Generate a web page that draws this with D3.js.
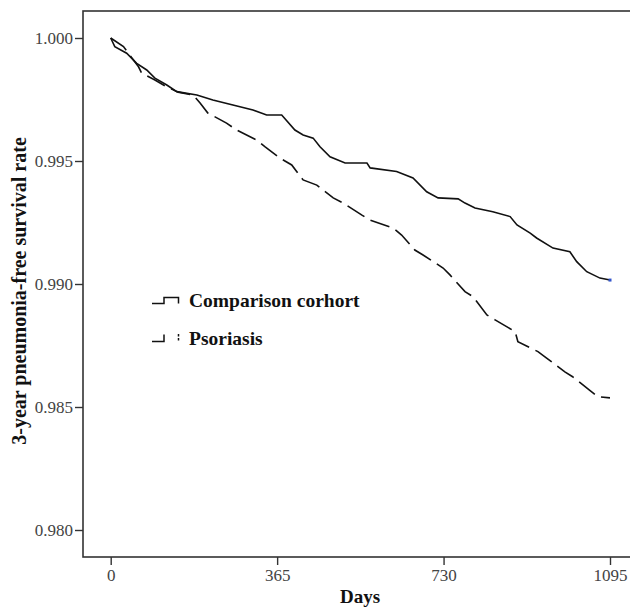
<!DOCTYPE html>
<html>
<head>
<meta charset="utf-8">
<script src="https://cdn.jsdelivr.net/npm/d3@7"></script>
<style>
  html, body { margin: 0; padding: 0; background: #fff; }
  svg { display: block; }
</style>
</head>
<body>
<svg id="chart" width="630" height="608"></svg>
<script>
// ---- data ----
const seriesNames = ["Comparison corhort", "Psoriasis"];
const comparisonDays = [0, 9, 35, 57, 79, 97, 123, 145, 189, 224, 268, 312, 342, 375, 404, 422, 444, 459, 481, 514, 562, 569, 627, 663, 693, 718, 762, 777, 799, 838, 876, 891, 920, 934, 970, 1007, 1022, 1044, 1073, 1095];
const comparisonValues = [1.0000, 0.99965, 0.99938, 0.99897, 0.99870, 0.99837, 0.99809, 0.99782, 0.99768, 0.99748, 0.99728, 0.99707, 0.99687, 0.99687, 0.99626, 0.99606, 0.99593, 0.99558, 0.99517, 0.99492, 0.99492, 0.99472, 0.99457, 0.99431, 0.99375, 0.99350, 0.99346, 0.99329, 0.99309, 0.99294, 0.99274, 0.99240, 0.99207, 0.99187, 0.99146, 0.99131, 0.99091, 0.99050, 0.99024, 0.99016];
const psoriasisDays = [0, 28, 61, 68, 97, 123, 148, 181, 196, 213, 254, 276, 320, 338, 371, 397, 422, 452, 488, 510, 551, 569, 619, 638, 667, 685, 729, 744, 777, 795, 825, 843, 887, 893, 937, 956, 996, 1013, 1050, 1068, 1095];
const psoriasisValues = [1.0000, 0.99965, 0.99883, 0.99857, 0.99829, 0.99801, 0.99780, 0.99768, 0.99736, 0.99695, 0.99654, 0.99626, 0.99585, 0.99558, 0.99512, 0.99484, 0.99423, 0.99402, 0.99350, 0.99329, 0.99280, 0.99260, 0.99228, 0.99199, 0.99138, 0.99118, 0.99065, 0.99037, 0.98969, 0.98948, 0.98874, 0.98854, 0.98806, 0.98765, 0.98725, 0.98699, 0.98643, 0.98623, 0.98569, 0.98542, 0.98537];
const xTicks = [0, 365, 730, 1095];
const yTicks = [1.000, 0.995, 0.990, 0.985, 0.980];
const xTitle = "Days";
const yTitle = "3-year pneumonia-free survival rate";

// ---- layout ----
const svg = d3.select("#chart");
const frameL = 83, frameT = 11, frameR = 632, frameB = 557;
const x = d3.scaleLinear().domain([0, 1095]).range([110.7, 610]);
const y = d3.scaleLinear().domain([0.980, 1.000]).range([530, 38]);
const serif = "'Liberation Serif', 'Times New Roman', serif";

// frame
svg.append("rect")
  .attr("x", frameL).attr("y", frameT)
  .attr("width", frameR - frameL).attr("height", frameB - frameT)
  .attr("fill", "none").attr("stroke", "#333").attr("stroke-width", 1.6);

// axes
const yAxis = d3.axisLeft(y).tickValues(yTicks).tickFormat(d3.format(".3f")).tickSize(8).tickPadding(2);
const gy = svg.append("g").attr("transform", `translate(${frameL},0)`).call(yAxis);
const xAxis = d3.axisBottom(x).tickValues(xTicks).tickFormat(d3.format("d")).tickSize(8).tickPadding(4);
const gx = svg.append("g").attr("transform", `translate(0,${frameB})`).call(xAxis);
[gy, gx].forEach(g => {
  g.select(".domain").remove();
  g.selectAll(".tick line").attr("stroke", "#333").attr("stroke-width", 1.4);
  g.selectAll(".tick text").attr("fill", "#444").style("font-family", serif).style("font-size", "17px");
});

// titles
svg.append("text")
  .attr("transform", `translate(26,291) rotate(-90)`)
  .attr("text-anchor", "middle")
  .style("font-family", serif).style("font-size", "20px").style("font-weight", "bold")
  .attr("fill", "#111")
  .text(yTitle);
svg.append("text")
  .attr("x", 360).attr("y", 603)
  .attr("text-anchor", "middle")
  .style("font-family", serif).style("font-size", "19px").style("font-weight", "bold")
  .attr("fill", "#111")
  .text(xTitle);

// lines
const line = d3.line().x(d => x(d[0])).y(d => y(d[1])).curve(d3.curveLinear);
const comp = comparisonDays.map((d, i) => [d, comparisonValues[i]]);
const psor = psoriasisDays.map((d, i) => [d, psoriasisValues[i]]);

svg.append("path").datum(psor).attr("d", line)
  .attr("fill", "none").attr("stroke", "#111").attr("stroke-width", 1.6)
  .attr("stroke-dasharray", "20,7");
svg.append("path").datum(comp).attr("d", line)
  .attr("fill", "none").attr("stroke", "#111").attr("stroke-width", 1.6);

// end censor mark (blue)
const last = comp[comp.length - 1];
svg.append("rect")
  .attr("x", x(last[0]) - 1.5).attr("y", y(last[1]) - 1.5)
  .attr("width", 3).attr("height", 3).attr("fill", "#3355cc");

// legend
const lg = svg.append("g");
lg.append("path")
  .attr("d", "M152,303.5 H164 V297.5 H178.5 V303.5")
  .attr("fill", "none").attr("stroke", "#111").attr("stroke-width", 1.5);
lg.append("path")
  .attr("d", "M152,341.5 H164 V334.5")
  .attr("fill", "none").attr("stroke", "#111").attr("stroke-width", 1.5);
lg.append("path")
  .attr("d", "M178.5,334 V342")
  .attr("fill", "none").attr("stroke", "#111").attr("stroke-width", 1.5)
  .attr("stroke-dasharray", "2.5,1.5");
lg.selectAll("text").data(seriesNames).enter().append("text")
  .attr("x", 189).attr("y", (d, i) => i === 0 ? 307 : 345)
  .style("font-family", serif).style("font-size", "19.5px").style("font-weight", "bold")
  .attr("fill", "#111")
  .text(d => d);
</script>
</body>
</html>
